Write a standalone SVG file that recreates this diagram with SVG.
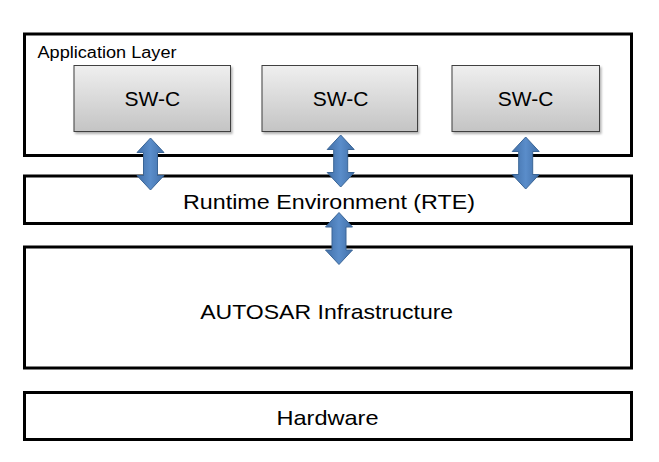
<svg xmlns="http://www.w3.org/2000/svg" width="659" height="462" viewBox="0 0 659 462">
  <style>
    .layer { fill: #ffffff; stroke: #000000; stroke-width: 3; }
    .swc { fill: url(#swcGrad); stroke: #3f3f3f; stroke-width: 1; filter: url(#shadow); }
    .t { font-family: "Liberation Sans", Arial, sans-serif; fill: #000000; }
    .big { font-size: 21px; }
    .small { font-size: 16px; }
    .arrow { fill: url(#arrowGrad); stroke: #3a6596; stroke-width: 1; }
  </style>
  <defs>
    <linearGradient id="swcGrad" x1="0" y1="0" x2="0" y2="1">
      <stop offset="0" stop-color="#efefef"/>
      <stop offset="1" stop-color="#c4c4c4"/>
    </linearGradient>
    <linearGradient id="arrowGrad" x1="0" y1="0" x2="1" y2="0">
      <stop offset="0" stop-color="#416fa8"/>
      <stop offset="0.5" stop-color="#5a8dca"/>
      <stop offset="1" stop-color="#416fa8"/>
    </linearGradient>
    <filter id="shadow" x="-5%" y="-5%" width="115%" height="125%">
      <feDropShadow dx="1.5" dy="2" stdDeviation="1.2" flood-color="#000000" flood-opacity="0.3"/>
    </filter>
    <path id="dblArrow" d="M0,0 L13.5,14.5 L7,14.5 L7,37.5 L13.5,37.5 L0,52 L-13.5,37.5 L-7,37.5 L-7,14.5 L-13.5,14.5 Z"/>
  </defs>

  <g id="application-layer">
    <rect class="layer" x="24.5" y="34" width="607" height="121.5"/>
    <text class="t small" x="37.5" y="57.5" textLength="139" lengthAdjust="spacingAndGlyphs">Application Layer</text>
  </g>

  <g id="swc-1">
    <rect class="swc" x="74" y="65.5" width="156.5" height="66"/>
    <text class="t big" x="152.3" y="106" text-anchor="middle">SW-C</text>
  </g>
  <g id="swc-2">
    <rect class="swc" x="262" y="65.5" width="155.5" height="66"/>
    <text class="t big" x="340.5" y="106" text-anchor="middle">SW-C</text>
  </g>
  <g id="swc-3">
    <rect class="swc" x="452" y="65.5" width="147.5" height="66"/>
    <text class="t big" x="525.5" y="106" text-anchor="middle">SW-C</text>
  </g>

  <g id="rte">
    <rect class="layer" x="24.5" y="176" width="607" height="47.5"/>
    <text class="t big" x="329" y="208.5" text-anchor="middle" textLength="292" lengthAdjust="spacingAndGlyphs">Runtime Environment (RTE)</text>
  </g>

  <g id="autosar-infrastructure">
    <rect class="layer" x="24.5" y="247" width="607" height="121"/>
    <text class="t big" x="326.7" y="318.5" text-anchor="middle" textLength="253" lengthAdjust="spacingAndGlyphs">AUTOSAR Infrastructure</text>
  </g>

  <g id="hardware">
    <rect class="layer" x="24.5" y="392.5" width="607" height="47"/>
    <text class="t big" x="327.5" y="424.5" text-anchor="middle" textLength="102" lengthAdjust="spacingAndGlyphs">Hardware</text>
  </g>

  <g id="connectors">
    <use href="#dblArrow" class="arrow" transform="translate(150.5,138)"/>
    <use href="#dblArrow" class="arrow" transform="translate(340.7,135)"/>
    <use href="#dblArrow" class="arrow" transform="translate(525.7,137)"/>
    <use href="#dblArrow" class="arrow" transform="translate(339,212.5)"/>
  </g>
</svg>
